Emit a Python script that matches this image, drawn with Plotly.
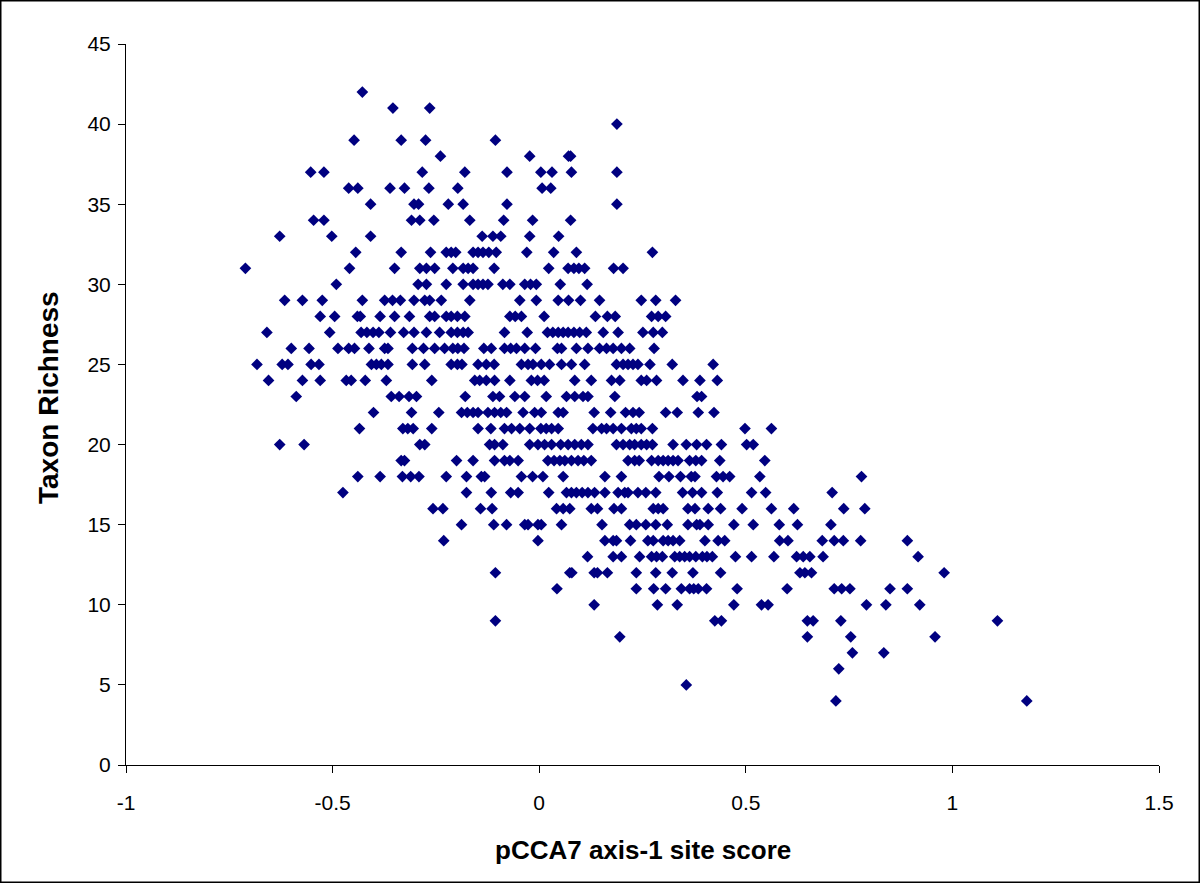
import plotly.graph_objects as go

# Site scores on pCCA7 axis 1, listed by taxon richness (richness 42 down to 4)
site_score = [
    -0.428,
    -0.354, -0.265,
    0.188,
    -0.448, -0.334, -0.275, -0.106,
    -0.239, -0.023, 0.071, 0.076,
    -0.553, -0.521, -0.283, -0.180, -0.078, 0.004, 0.031, 0.078, 0.188,
    -0.461, -0.439, -0.361, -0.326, -0.267, -0.197, 0.007, 0.028,
    -0.408, -0.303, -0.292, -0.220, -0.184, -0.078, 0.188,
    -0.546, -0.521, -0.309, -0.289, -0.255, -0.168, -0.086, -0.016, 0.076,
    -0.628, -0.502, -0.408, -0.138, -0.112, -0.093, -0.023, 0.047,
    -0.444, -0.334, -0.263, -0.225, -0.213, -0.202, -0.160, -0.148, -0.136, -0.122, -0.104, -0.030, 0.035, 0.090, 0.274,
    -0.711, -0.459, -0.350, -0.289, -0.273, -0.253, -0.209, -0.184, -0.172, -0.160, -0.109, 0.023, 0.070, 0.084, 0.096, 0.110, 0.180, 0.203,
    -0.491, -0.293, -0.273, -0.225, -0.184, -0.160, -0.148, -0.136, -0.124, -0.088, -0.071, -0.035, -0.021, -0.007, 0.051, 0.116,
    -0.616, -0.573, -0.525, -0.428, -0.374, -0.355, -0.336, -0.303, -0.277, -0.265, -0.237, -0.168, -0.047, -0.007, 0.046, 0.071, 0.100, 0.146, 0.247, 0.282, 0.330,
    -0.530, -0.495, -0.440, -0.433, -0.385, -0.350, -0.314, -0.265, -0.253, -0.225, -0.213, -0.198, -0.180, -0.071, -0.058, -0.043, 0.012, 0.136, 0.165, 0.184, 0.272, 0.288, 0.306,
    -0.659, -0.507, -0.431, -0.417, -0.402, -0.388, -0.360, -0.328, -0.303, -0.273, -0.241, -0.213, -0.198, -0.184, -0.172, -0.084, -0.029, 0.020, 0.033, 0.046, 0.058, 0.070, 0.084, 0.098, 0.114, 0.155, 0.191, 0.251, 0.276, 0.298,
    -0.600, -0.557, -0.487, -0.461, -0.447, -0.412, -0.374, -0.366, -0.307, -0.280, -0.253, -0.229, -0.209, -0.197, -0.182, -0.134, -0.116, -0.084, -0.069, -0.055, -0.035, -0.009, 0.044, 0.054, 0.090, 0.118, 0.146, 0.163, 0.179, 0.199, 0.219, 0.278,
    -0.683, -0.622, -0.608, -0.552, -0.533, -0.406, -0.394, -0.382, -0.366, -0.307, -0.277, -0.213, -0.198, -0.187, -0.148, -0.128, -0.109, -0.043, -0.027, -0.015, 0.005, 0.025, 0.054, 0.078, 0.110, 0.187, 0.203, 0.215, 0.227, 0.239, 0.268, 0.322, 0.421,
    -0.655, -0.573, -0.530, -0.467, -0.455, -0.421, -0.370, -0.260, -0.156, -0.144, -0.128, -0.108, -0.071, -0.019, -0.004, 0.012, 0.086, 0.126, 0.175, 0.195, 0.247, 0.260, 0.284, 0.348, 0.389, 0.431,
    -0.588, -0.358, -0.339, -0.315, -0.297, -0.179, -0.112, -0.096, -0.059, -0.035, 0.017, 0.066, 0.086, 0.106, 0.118, 0.183, 0.382, 0.393,
    -0.401, -0.309, -0.243, -0.188, -0.174, -0.160, -0.148, -0.124, -0.108, -0.093, -0.079, -0.039, -0.011, 0.005, 0.046, 0.058, 0.133, 0.173, 0.209, 0.227, 0.242, 0.306, 0.334, 0.385, 0.423,
    -0.435, -0.330, -0.318, -0.305, -0.260, -0.148, -0.117, -0.084, -0.067, -0.047, -0.023, 0.004, 0.017, 0.030, 0.046, 0.130, 0.151, 0.163, 0.179, 0.199, 0.223, 0.235, 0.247, 0.274, 0.498, 0.562,
    -0.628, -0.569, -0.289, -0.277, -0.120, -0.108, -0.088, -0.023, -0.003, 0.013, 0.030, 0.052, 0.070, 0.086, 0.102, 0.118, 0.187, 0.203, 0.219, 0.231, 0.247, 0.260, 0.274, 0.324, 0.356, 0.381, 0.405, 0.441, 0.502, 0.518,
    -0.334, -0.326, -0.200, -0.160, -0.108, -0.084, -0.071, -0.051, 0.021, 0.036, 0.050, 0.062, 0.078, 0.094, 0.108, 0.126, 0.215, 0.231, 0.242, 0.272, 0.288, 0.300, 0.312, 0.324, 0.336, 0.364, 0.379, 0.393, 0.437, 0.546,
    -0.439, -0.385, -0.331, -0.311, -0.291, -0.225, -0.176, -0.140, -0.132, -0.043, -0.016, 0.009, 0.058, 0.159, 0.199, 0.290, 0.314, 0.342, 0.368, 0.377, 0.429, 0.445, 0.461, 0.534, 0.780,
    -0.475, -0.176, -0.116, -0.069, -0.051, 0.023, 0.066, 0.078, 0.090, 0.104, 0.118, 0.134, 0.159, 0.191, 0.207, 0.215, 0.239, 0.258, 0.282, 0.347, 0.371, 0.393, 0.431, 0.514, 0.548, 0.709,
    -0.257, -0.233, -0.142, -0.114, 0.042, 0.058, 0.074, 0.126, 0.141, 0.181, 0.199, 0.276, 0.288, 0.300, 0.360, 0.377, 0.409, 0.439, 0.491, 0.562, 0.616, 0.737, 0.788,
    -0.188, -0.110, -0.079, -0.035, -0.027, -0.003, 0.005, 0.054, 0.152, 0.219, 0.235, 0.258, 0.282, 0.310, 0.360, 0.381, 0.389, 0.409, 0.471, 0.518, 0.581, 0.625, 0.706,
    -0.231, -0.003, 0.159, 0.179, 0.187, 0.221, 0.263, 0.276, 0.300, 0.312, 0.324, 0.340, 0.401, 0.433, 0.449, 0.582, 0.602, 0.685, 0.714, 0.736, 0.778, 0.891,
    0.117, 0.179, 0.199, 0.243, 0.272, 0.284, 0.298, 0.328, 0.340, 0.352, 0.364, 0.379, 0.395, 0.406, 0.419, 0.475, 0.514, 0.568, 0.623, 0.639, 0.655, 0.687, 0.917,
    -0.106, 0.074, 0.079, 0.133, 0.141, 0.165, 0.235, 0.282, 0.322, 0.372, 0.439, 0.631, 0.643, 0.659, 0.980,
    0.043, 0.235, 0.277, 0.306, 0.344, 0.364, 0.374, 0.385, 0.405, 0.479, 0.600, 0.714, 0.732, 0.752, 0.849, 0.891,
    0.133, 0.286, 0.334, 0.471, 0.538, 0.554, 0.792, 0.839, 0.921,
    -0.106, 0.425, 0.441, 0.649, 0.663, 0.730, 1.109,
    0.195, 0.649, 0.754, 0.958,
    0.758, 0.834,
    0.725,
    0.356,
    0.718, 1.180,
]

# Number of sites sharing each richness value, in the same order as above
richness_levels = [42, 41, 40, 39, 38, 37, 36, 35, 34, 33, 32, 31, 30, 29, 28, 27, 26, 25, 24, 23,
                   22, 21, 20, 19, 18, 17, 16, 15, 14, 13, 12, 11, 10, 9, 8, 7, 6, 5, 4]
sites_per_level = [1, 2, 1, 4, 4, 9, 8, 7, 9, 8, 15, 18, 16, 21, 23, 30, 32, 33, 26, 18,
                   25, 26, 30, 30, 25, 26, 23, 23, 22, 23, 15, 16, 9, 7, 4, 2, 1, 1, 2]

taxon_richness = []
for level, count in zip(richness_levels, sites_per_level):
    taxon_richness.extend([level] * count)

x_ticks = [-1, -0.5, 0, 0.5, 1, 1.5]
y_ticks = [0, 5, 10, 15, 20, 25, 30, 35, 40, 45]

FONT = "Liberation Sans, Arial, sans-serif"

fig = go.Figure(
    go.Scatter(
        x=site_score,
        y=taxon_richness,
        mode="markers",
        marker=dict(symbol="diamond", size=9, color="#000080", line=dict(width=0)),
        hoverinfo="x+y",
    )
)

axis_common = dict(
    showgrid=False,
    zeroline=False,
    showline=True,
    linecolor="#000000",
    linewidth=1,
    ticks="outside",
    ticklen=7,
    tickcolor="#000000",
    tickfont=dict(family=FONT, size=21, color="#000000"),
)

fig.update_xaxes(range=[-1, 1.5], tickvals=x_ticks, ticktext=[f"{v:g}" for v in x_ticks],
                 ticklabelstandoff=12, **axis_common)
fig.update_yaxes(range=[0, 45], tickvals=y_ticks, ticklabelstandoff=3, **axis_common)

W, H = 1200, 883
L, R, T, B = 126, 41, 44, 118
pw, ph = W - L - R, H - T - B

def px_to_paper_x(px):
    return (px - L) / pw

def px_to_paper_y(py):
    return (H - B - py) / ph

fig.update_layout(
    width=W,
    height=H,
    margin=dict(l=L, r=R, t=T, b=B),
    paper_bgcolor="white",
    plot_bgcolor="white",
    showlegend=False,
    font=dict(family=FONT, color="#000000"),
    annotations=[
        dict(text="<b>pCCA7 axis-1 site score</b>", xref="paper", yref="paper",
             x=px_to_paper_x(643), y=px_to_paper_y(850), showarrow=False,
             font=dict(family=FONT, size=26, color="#000000"),
             xanchor="center", yanchor="middle"),
        dict(text="<b>Taxon Richness</b>", xref="paper", yref="paper",
             x=px_to_paper_x(48), y=px_to_paper_y(398), showarrow=False, textangle=-90,
             font=dict(family=FONT, size=28, color="#000000"),
             xanchor="center", yanchor="middle"),
    ],
    shapes=[
        dict(type="rect", xref="paper", yref="paper",
             x0=px_to_paper_x(0.5), x1=px_to_paper_x(W - 0.5),
             y0=px_to_paper_y(H - 0.5), y1=px_to_paper_y(0.5),
             line=dict(color="#000000", width=2), fillcolor="rgba(0,0,0,0)", layer="above"),
    ],
)

fig.write_html("out.html")
